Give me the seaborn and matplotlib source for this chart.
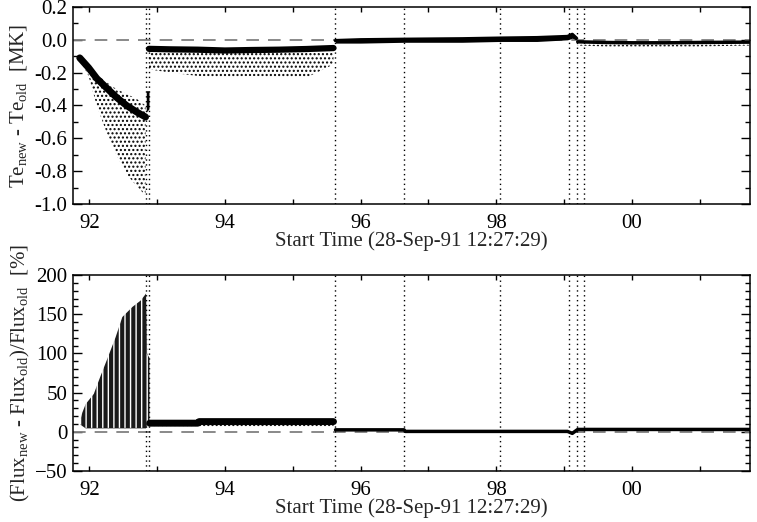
import matplotlib
matplotlib.use("Agg")
import matplotlib.pyplot as plt
import seaborn as sns
import numpy as np

# ---------------- data ----------------
# x axis in decimal years (1991.74 = 28-Sep-91 12:27:29)
x_min, x_max = 91.76, 101.74
x_tick_years = [92, 93, 94, 95, 96, 97, 98, 99, 100, 101]
x_tick_labels = ["92", "", "94", "", "96", "", "98", "", "00", ""]
event_lines = [92.832, 92.881, 95.624, 96.646, 98.057, 99.075, 99.189, 99.296]

# --- top panel: Te_new - Te_old [MK]
teA_t = [91.86, 91.99, 92.11, 92.26, 92.40, 92.55, 92.70, 92.83]
teA_core = [-0.11, -0.17, -0.235, -0.295, -0.35, -0.40, -0.44, -0.47]
teA_high = [-0.10, -0.16, -0.21, -0.26, -0.30, -0.33, -0.36, -0.40]
teA_low = [-0.12, -0.22, -0.40, -0.57, -0.70, -0.82, -0.89, -0.95]
teBlob_t = [92.84, 92.88]
teBlob_low = [-0.44, -0.42]
teBlob_high = [-0.31, -0.31]

teB_t = [92.88, 93.2, 93.6, 94.0, 94.4, 94.8, 95.2, 95.60]
teB_core = [-0.055, -0.058, -0.06, -0.065, -0.062, -0.06, -0.056, -0.05]
teB_low = [-0.18, -0.20, -0.22, -0.23, -0.22, -0.23, -0.23, -0.15]

teC_t = [95.63, 96.0, 96.65, 97.5, 98.06, 98.6, 99.05, 99.12, 99.18]
teC_core = [-0.005, 0.0, 0.003, 0.006, 0.01, 0.013, 0.02, 0.033, 0.01]
teC_low = [-0.02, -0.02, -0.015, -0.015, -0.01, -0.01, 0.0, 0.01, 0.0]

teD_t = [99.20, 99.6, 100.0, 100.5, 101.0, 101.74]
teD_core = [-0.012, -0.016, -0.018, -0.018, -0.016, -0.014]
teD_low = [-0.035, -0.04, -0.04, -0.04, -0.04, -0.035]

# --- bottom panel: (Flux_new - Flux_old)/Flux_old [%]
fxA_t = [91.86, 91.89, 91.94, 92.06, 92.16, 92.26, 92.38, 92.48, 92.63, 92.75, 92.83, 92.845, 92.88]
fxA_high = [15, 25, 36, 49, 72, 94, 121, 147, 160, 168, 177, 100, 95]
fxA_low = [10, 8, 5, 5, 5, 5, 5, 5, 5, 5, 5, 10, 10]

fxB_t = [92.89, 93.6, 93.62, 95.60]
fxB_core = [11, 11, 13, 13]
fxB_low = [5, 5, 6, 6]

fxC_t = [95.63, 96.64, 96.66, 99.05, 99.12, 99.20, 101.74]
fxC_core = [2.5, 2.5, 0.5, 0.5, -2.0, 3.0, 3.0]

# ---------------- style ----------------
sns.set_style("ticks")
plt.rcParams["font.family"] = ["Liberation Serif", "DejaVu Serif"]
plt.rcParams["mathtext.fontset"] = "custom"
plt.rcParams["mathtext.rm"] = "Liberation Serif"
plt.rcParams["mathtext.it"] = "Liberation Serif"
plt.rcParams["hatch.linewidth"] = 1.0

FS = 15

fig = plt.figure(figsize=(7.57, 5.22), dpi=100)
ax1 = fig.add_axes([0.0964, 0.6092, 0.8944, 0.3774])
ax2 = fig.add_axes([0.0964, 0.0977, 0.8944, 0.3755])

def style_axis(ax, ymin, ymax, ymaj, ymin_step):
    ax.set_xlim(x_min, x_max)
    ax.set_ylim(ymin, ymax)
    ax.set_xticks(x_tick_years)
    ax.set_xticklabels(x_tick_labels)
    ax.set_yticks(np.arange(ymin, ymax + 1e-9, ymaj))
    ax.set_yticks(np.arange(ymin, ymax + 1e-9, ymin_step), minor=True)
    for s in ax.spines.values():
        s.set_visible(True)
        s.set_linewidth(1.1)
        s.set_color("black")
    ax.tick_params(axis="both", which="both", direction="in", top=True, right=True,
                   colors="black", labelsize=FS, width=1.0)
    ax.tick_params(axis="x", which="major", length=3.5, pad=7)
    ax.tick_params(axis="y", which="major", length=6.5, pad=4)
    ax.tick_params(axis="y", which="minor", length=3.5)
    ax.set_xlabel("Start Time (28-Sep-91 12:27:29)", fontsize=FS, labelpad=-1)
    ax.axhline(0, color="0.5", linestyle=(0, (7, 5)), linewidth=1.3, zorder=1)
    for xv in event_lines:
        ax.axvline(xv, color="black", linestyle=(0, (1, 2.5)), linewidth=1.0, zorder=2)

# ---- top panel
style_axis(ax1, -1.0, 0.2, 0.2, 0.1)
ax1.set_yticklabels(["-1.0", "-0.8", "-0.6", "-0.4", "-0.2", "0.0", "0.2"])
ax1.fill_between(teA_t, teA_low, teA_high, facecolor="none", edgecolor="black",
                 hatch="....", linewidth=0, zorder=3)
ax1.fill_between(teBlob_t, teBlob_low, teBlob_high, color="black", linewidth=0, zorder=3)
ax1.fill_between(teB_t, teB_low, teB_core, facecolor="none", edgecolor="black",
                 hatch="....", linewidth=0, zorder=3)
sns.lineplot(x=teA_t, y=teA_core, ax=ax1, color="black", linewidth=5, zorder=4)
sns.lineplot(x=teB_t, y=teB_core, ax=ax1, color="black", linewidth=4.5, zorder=4)
ax1.fill_between(teC_t, teC_low, teC_core, color="black", linewidth=0, zorder=3)
sns.lineplot(x=teC_t, y=teC_core, ax=ax1, color="black", linewidth=2.5, zorder=4)
ax1.fill_between(teD_t, teD_low, teD_core, facecolor="none", edgecolor="black",
                 hatch="....", linewidth=0, zorder=3)
sns.lineplot(x=teD_t, y=teD_core, ax=ax1, color="black", linewidth=2.5, zorder=4)
ax1.set_ylabel(r"Te$_{\mathregular{new}}$ - Te$_{\mathregular{old}}$  [MK]",
               fontsize=FS, labelpad=4)

# ---- bottom panel
style_axis(ax2, -50, 200, 50, 10)
ax2.fill_between(fxA_t, fxA_low, fxA_high, color="0.1", linewidth=0, zorder=3)
ax2.fill_between(fxA_t, fxA_low, fxA_high, facecolor="none", edgecolor="white",
                 hatch="|||", linewidth=0, zorder=3)
ax2.fill_between(fxB_t, fxB_low, fxB_core, facecolor="none", edgecolor="black",
                 hatch="....", linewidth=0, zorder=3)
sns.lineplot(x=fxB_t, y=fxB_core, ax=ax2, color="black", linewidth=5, zorder=4)
sns.lineplot(x=fxC_t, y=fxC_core, ax=ax2, color="black", linewidth=2.5, zorder=4)
ax2.set_ylabel(r"(Flux$_{\mathregular{new}}$ - Flux$_{\mathregular{old}}$)/Flux$_{\mathregular{old}}$  [%]",
               fontsize=FS, labelpad=2)

fig.savefig("out.png", dpi=100, facecolor="white")
